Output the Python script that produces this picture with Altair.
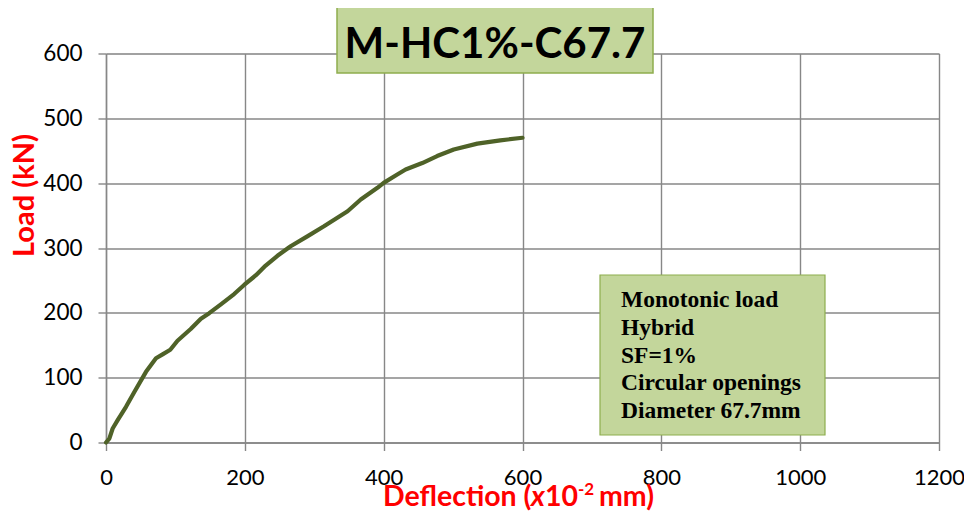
import altair as alt
import pandas as pd

deflection = [0, 4.8, 9.6, 16.8, 28.8, 40.8, 57.6, 72, 81.5, 92.6, 103, 122, 136.7, 148.7,
              165.5, 184.6, 199, 216, 230, 247, 266, 290, 314, 348, 367, 391, 400, 419.6,
              431.6, 455.6, 477, 501, 535, 568, 600]
load = [0, 6, 21.6, 34.5, 55, 78, 109, 130, 136, 143, 157, 175, 191, 199.5,
        213, 229, 243, 258, 273, 288, 302.6, 318, 333.5, 356.7, 374.8, 392.8, 400.5, 413.4,
        421, 431, 441.8, 452, 461, 466, 470]

x_ticks = [0, 200, 400, 600, 800, 1000, 1200]
y_ticks = [0, 100, 200, 300, 400, 500, 600]

chart_title = "M-HC1%-C67.7"
info_lines = ["Monotonic load", "Hybrid", "SF=1%", "Circular openings", "Diameter 67.7mm"]
y_title = "Load (kN)"

df = pd.DataFrame({"deflection": deflection, "load": load})

W, H = 833, 389
GRID = "#878787"
RED = "#FF0000"

line = alt.Chart(df).mark_line(color="#4F6228", strokeWidth=4.2, strokeCap="round", strokeJoin="round").encode(
    x=alt.X("deflection:Q",
            scale=alt.Scale(domain=[0, 1200], nice=False, zero=True),
            axis=alt.Axis(values=x_ticks, title=None, format="d", labelFont="Lato", labelFontSize=22,
                          labelColor="black", labelPadding=17, tickSize=8, tickColor=GRID,
                          domainColor=GRID, gridColor=GRID, gridWidth=1.4, domainWidth=1.4,
                          tickWidth=1.4, grid=True, labelFlush=False, labelOverlap=False)),
    y=alt.Y("load:Q",
            scale=alt.Scale(domain=[0, 600], nice=False),
            axis=alt.Axis(values=y_ticks, title=y_title, format="d", labelFont="Lato", labelFontSize=22.5,
                          labelColor="black", labelPadding=16, tickSize=8, tickColor=GRID,
                          domainColor=GRID, gridColor=GRID, gridWidth=1.4, domainWidth=1.4,
                          tickWidth=1.4, grid=True, labelFlush=False, labelOverlap=False,
                          titleFont="Lato", titleFontSize=29, titleFontWeight="bold",
                          titleColor=RED, titleAngle=270, titleX=-82, titleY=141.5,
                          titleAlign="center", titleBaseline="middle")),
)

one = df.head(1)

# Title box
title_box = alt.Chart(one).mark_rect(fill="#C3D69B", stroke="#8EAD4E", strokeWidth=1.5).encode(
    x=alt.value(231), x2=alt.value(547), y=alt.value(-46.5), y2=alt.value(19.5))
title_text = alt.Chart(one).mark_text(
    text=chart_title, font="Lato", fontSize=42, fontWeight="bold", color="black",
    align="center", baseline="alphabetic").encode(x=alt.value(389), y=alt.value(4))

# Info box
info_box = alt.Chart(one).mark_rect(fill="#C3D69B", stroke="#8EAD4E", strokeWidth=1.2).encode(
    x=alt.value(494), x2=alt.value(719), y=alt.value(221.5), y2=alt.value(381.5))
info_text = alt.Chart(one).mark_text(
    text=info_lines, font="Liberation Serif", fontSize=23.5, fontWeight="bold", color="black",
    align="left", baseline="alphabetic", lineHeight=27.8).encode(x=alt.value(515), y=alt.value(253.5))

# X axis title pieces
def piece(txt, x, y, size=28.5, style="normal"):
    return alt.Chart(one).mark_text(
        text=txt, font="Lato", fontSize=size, fontWeight="bold", fontStyle=style, color=RED,
        align="left", baseline="alphabetic").encode(x=alt.value(x), y=alt.value(y))

xt = [
    piece("Deflection (", 277, 452.5),
    piece("x", 425, 452.5, style="italic"),
    piece("10", 439, 452.5),
    piece("-2", 472, 441, size=17),
    piece("mm)", 493, 452.5),
]

chart = alt.layer(line, title_box, title_text, info_box, info_text, *xt).properties(
    width=W, height=H,
    autosize=alt.AutoSizeParams(type="none"),
    padding={"left": 98, "top": 45.5, "right": 25, "bottom": 71},
).configure_view(stroke=None).configure(background="white")

chart.save("out.html", embed_options={"renderer": "svg", "actions": False})
